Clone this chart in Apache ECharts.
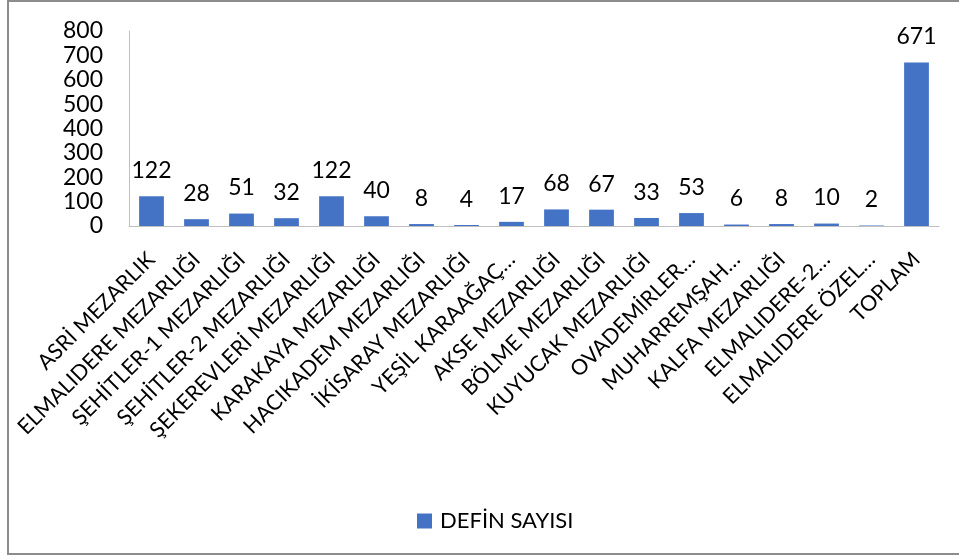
<!DOCTYPE html>
<html>
<head>
<meta charset="utf-8">
<script src="https://cdn.jsdelivr.net/npm/echarts@6/dist/echarts.min.js"></script>
<style>
html,body{margin:0;padding:0;background:#fff;}
#c{width:959px;height:559px;}
</style>
</head>
<body>
<div id="c"></div>
<script>
const categories = [
  "ASRİ MEZARLIK",
  "ELMALIDERE MEZARLIĞI",
  "ŞEHİTLER-1 MEZARLIĞI",
  "ŞEHİTLER-2 MEZARLIĞI",
  "ŞEKEREVLERİ MEZARLIĞI",
  "KARAKAYA MEZARLIĞI",
  "HACIKADEM MEZARLIĞI",
  "İKİSARAY MEZARLIĞI",
  "YEŞİL KARAAĞAÇ…",
  "AKSE MEZARLIĞI",
  "BÖLME MEZARLIĞI",
  "KUYUCAK MEZARLIĞI",
  "OVADEMİRLER…",
  "MUHARREMŞAH…",
  "KALFA MEZARLIĞI",
  "ELMALIDERE-2…",
  "ELMALIDERE ÖZEL…",
  "TOPLAM"
];
const seriesName = "DEFİN SAYISI";
const defin = [122, 28, 51, 32, 122, 40, 8, 4, 17, 68, 67, 33, 53, 6, 8, 10, 2, 671];
const yTicks = {min: 0, max: 800, interval: 100};

const chart = echarts.init(document.getElementById('c'), null, {renderer: 'canvas'});
const FONT = 'Lato, "Open Sans", sans-serif';
chart.setOption({
  animation: false,
  backgroundColor: '#fff',
  graphic: [{
    type: 'rect',
    shape: {x: 8, y: 1, width: 980, height: 553},
    style: {fill: 'none', stroke: '#8c8c8c', lineWidth: 2},
    silent: true, z: 100
  }],
  grid: {left: 129, right: 20, top: 31, bottom: 333, containLabel: false},
  legend: {
    data: [seriesName],
    left: 412, top: 505,
    icon: 'rect', itemWidth: 15, itemHeight: 15,
    textStyle: {fontFamily: FONT, fontSize: 22, color: '#000', padding: [0, 0, 0, 3]}
  },
  xAxis: {
    type: 'category',
    data: categories,
    axisLine: {lineStyle: {color: '#bfbfbf', width: 1}},
    axisTick: {show: false},
    axisLabel: {
      rotate: 45, interval: 0, margin: 30,
      fontFamily: FONT, fontSize: 21.5, color: '#000'
    }
  },
  yAxis: {
    type: 'value',
    min: yTicks.min, max: yTicks.max, interval: yTicks.interval,
    axisLine: {show: true, lineStyle: {color: '#bfbfbf', width: 1}},
    axisTick: {show: false},
    splitLine: {show: false},
    axisLabel: {margin: 26, fontFamily: FONT, fontSize: 23, color: '#000'}
  },
  series: [{
    name: seriesName,
    type: 'bar',
    data: defin,
    barWidth: '55%',
    itemStyle: {color: '#4472C4'},
    label: {
      show: true, position: 'top', distance: 14,
      fontFamily: FONT, fontSize: 23, color: '#000'
    }
  }]
});
</script>
</body>
</html>
